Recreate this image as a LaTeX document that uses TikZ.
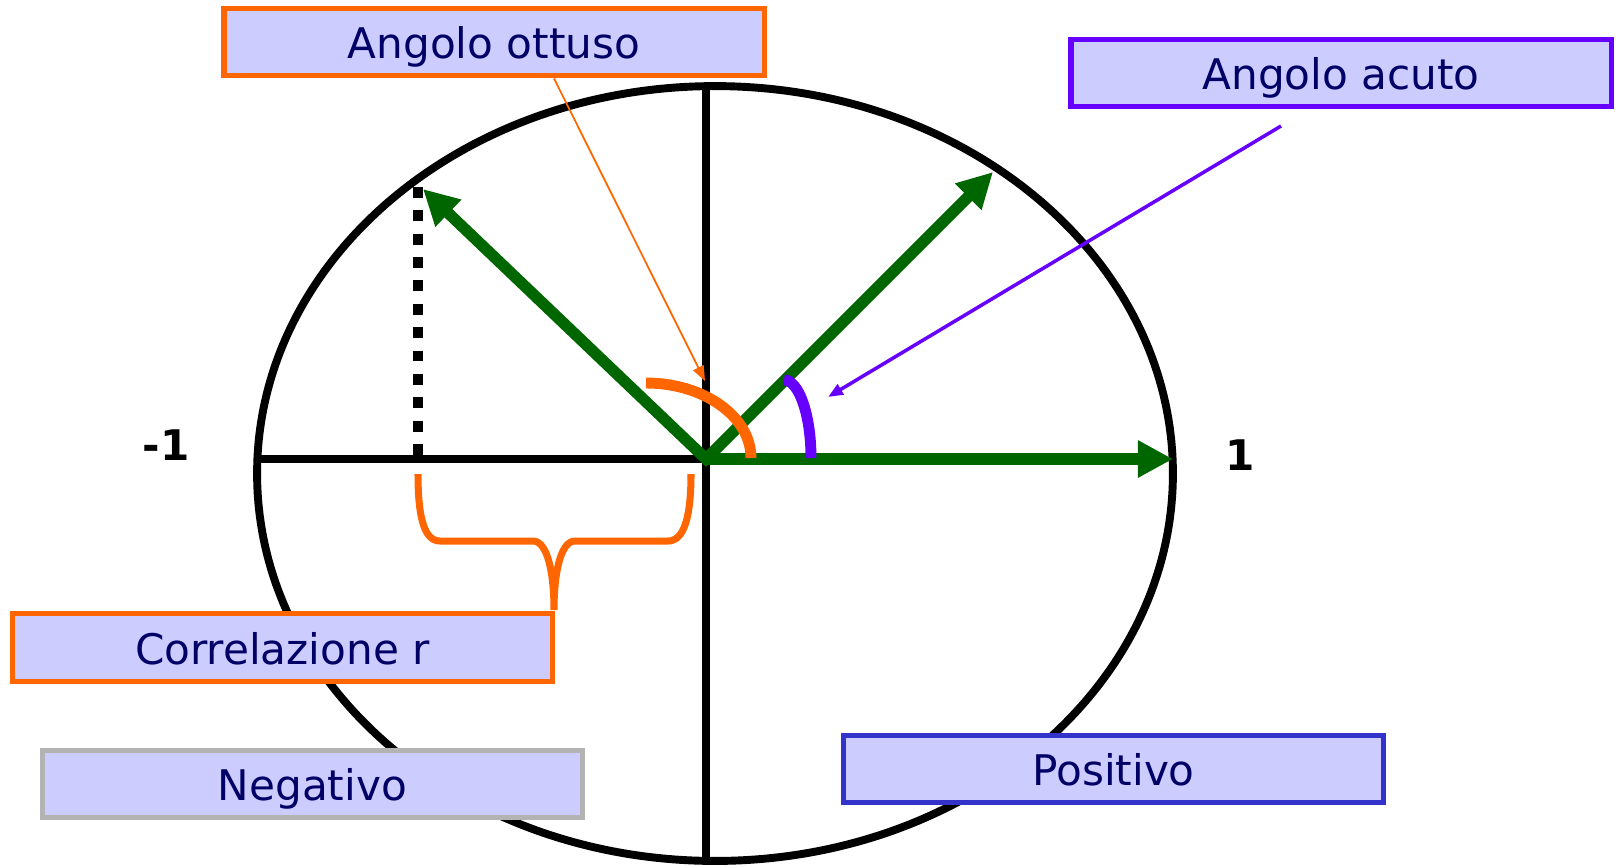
\documentclass[tikz,border=0pt]{standalone}
\usepackage{fontspec}
\setmainfont{DejaVu Sans}
\usetikzlibrary{arrows.meta, calc}
\definecolor{corange}{HTML}{FF6600}
\definecolor{cpurple}{HTML}{6600FF}
\definecolor{cgreen}{HTML}{006600}
\definecolor{cfill}{HTML}{CCCCFF}
\definecolor{cnavy}{HTML}{000066}
\definecolor{cgrey}{HTML}{B3B3B3}
\definecolor{cblue}{HTML}{3333CC}
\tikzset{
  box/.style={draw=#1, fill=cfill, line width=3pt, minimum width=307.5pt, minimum height=38.5pt, inner sep=0pt,
    text=cnavy, font=\fontsize{24}{29}\selectfont, text height=19.2pt, text depth=0pt},
  box/.default=cgrey,
  axis/.style={draw=black, line width=4.5pt},
  vec/.style={draw=cgreen, line width=6.5pt, >={Triangle[length=20pt, width=20pt]}, ->},
  anglemark/.style={draw=#1, line width=6.2pt},
  pointer/.style={draw=#1, -{Triangle[length=8.5pt, width=6.5pt]}},
  num/.style={font=\fontsize{24}{29}\selectfont\bfseries},
}

\begin{document}
\begin{tikzpicture}[x=0.02cm, y=-0.02cm]
  \useasboundingbox (0,0) rectangle (1622,867);
  \coordinate (O) at (706,459);
  \coordinate (e1) at (1173,459);
  \coordinate (vacute) at (993,172);
  \coordinate (vobtuse) at (423,189);
  \coordinate (bracetip) at (554,610);
  \coordinate (obtusetip) at (705,381);
  \coordinate (acutestart) at (1281,126);
  \coordinate (acutetip) at (828,397);

  \draw[axis] (715,473.5) ellipse [x radius=9.16cm, y radius=7.75cm];
  \draw[axis] (706,86) -- (706,861);
  \draw[axis] (257,459) -- (O);
  \draw[black, line width=6.2pt, dash pattern=on 6.2pt off 7.1pt] (418,187) -- (418,457);
  \draw[vec] (O) -- (e1);
  \draw[vec, <->] (vobtuse) -- (O) -- (vacute);
  \draw[anglemark=corange] (646,383) arc[start angle=90, end angle=0, x radius=2.1cm, y radius=1.5cm];
  \draw[anglemark=cpurple] (784,380) arc[start angle=90, end angle=0, x radius=0.54cm, y radius=1.56cm];
  \draw[corange, line width=4pt] (418,474) .. controls (418,520) and (425,541) .. (440,541) -- (533,541)
    .. controls (548,541) and (554,575) .. (bracetip) .. controls (554,575) and (560,541) .. (575,541)
    -- (668,541) .. controls (683,541) and (691,520) .. (691,474);

  \node[num] (minus) at (166,445) {-1};
  \node[num] (plus) at (1240,455) {1};

  \node[box=corange] (ottuso) at (494,42) {Angolo ottuso};
  \node[box=cpurple] (acuto) at (1341,73) {Angolo acuto};
  \node[box=corange] (corr) at (282.4,647.5) {Correlazione r};
  \node[box=cgrey] (neg) at (312.4,784) {Negativo};
  \node[box=cblue] (pos) at (1113.5,769) {Positivo};

  \draw[pointer=corange, line width=1pt] ($(ottuso.south)+(60,0)$) -- (obtusetip);
  \draw[pointer=cpurple, line width=2pt] (acutestart) -- (acutetip);
\end{tikzpicture}
\end{document}
